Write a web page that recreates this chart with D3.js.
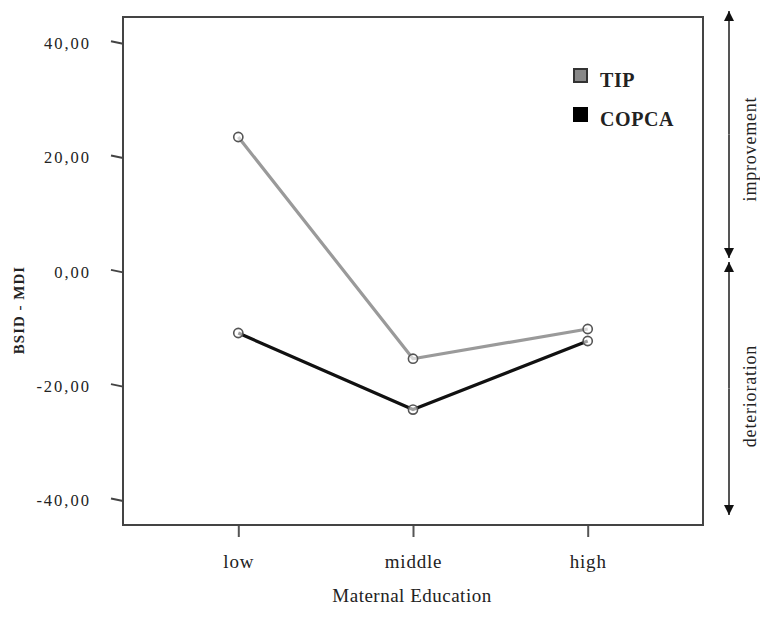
<!DOCTYPE html>
<html>
<head>
<meta charset="utf-8">
<script src="https://cdn.jsdelivr.net/npm/d3@7"></script>
<style>
  html, body { margin: 0; padding: 0; background: #fff; }
  svg { display: block; }
  text { font-family: "Liberation Serif", "DejaVu Serif", serif; fill: #222; }
</style>
</head>
<body>
<svg id="chart" width="760" height="634"></svg>
<script>
// Education levels on the x axis
const categories = ["low", "middle", "high"];
// Mean BSID-MDI change per group
const tipValues = [23.6, -15.2, -10.0];
const copcaValues = [-10.7, -24.1, -12.1];
const seriesNames = ["TIP", "COPCA"];
const yTicks = [-40, -20, 0, 20, 40];

const svg = d3.select("#chart");
const frame = { left: 123, right: 703, top: 17, bottom: 525 };

const x = d3.scalePoint().domain(categories)
  .range([frame.left, frame.right]).padding(0.66);
const y = d3.scaleLinear().domain([-44.3, 44.6])
  .range([frame.bottom, frame.top]);

// Decimal comma, plain hyphen for negatives
const fmt = v => d3.format(".2f")(v).replace(".", ",").replace("\u2212", "-");

// Y axis with short slanted ticks
const yAxis = svg.append("g")
  .attr("transform", `translate(${frame.left},0)`)
  .call(d3.axisLeft(y).tickValues(yTicks).tickSize(12).tickFormat(fmt));
yAxis.select(".domain").remove();
yAxis.selectAll(".tick line")
  .attr("x2", -12).attr("y2", -2.5)
  .attr("stroke", "#444").attr("stroke-width", 2);
yAxis.selectAll(".tick text")
  .attr("x", -32).attr("dy", "0.32em")
  .style("font-size", "16.5px").style("letter-spacing", "2px").attr("fill", "#222");

// X axis
const xAxis = svg.append("g")
  .attr("transform", `translate(0,${frame.bottom})`)
  .call(d3.axisBottom(x).tickSize(12));
xAxis.select(".domain").remove();
xAxis.selectAll(".tick line").attr("stroke", "#555").attr("stroke-width", 2);
xAxis.selectAll(".tick text")
  .attr("y", 43).attr("dy", 0)
  .style("font-size", "19px").style("letter-spacing", "0.8px").attr("fill", "#222");

// Plot frame
svg.append("rect")
  .attr("x", frame.left).attr("y", frame.top)
  .attr("width", frame.right - frame.left).attr("height", frame.bottom - frame.top)
  .attr("fill", "none").attr("stroke", "#444").attr("stroke-width", 2);

// Axis titles
svg.append("text")
  .attr("transform", "translate(24,310) rotate(-90)")
  .attr("text-anchor", "middle")
  .style("font-size", "15px").style("font-weight", "bold").style("letter-spacing", "1px")
  .text("BSID - MDI");
svg.append("text")
  .attr("x", 412).attr("y", 602)
  .attr("text-anchor", "middle")
  .style("font-size", "19px").style("letter-spacing", "0.5px")
  .text("Maternal Education");

// Series lines and markers
const series = [
  { name: seriesNames[0], values: tipValues, color: "#9a9a9a" },
  { name: seriesNames[1], values: copcaValues, color: "#111" }
];
const line = d3.line().x((d, i) => x(categories[i])).y(d => y(d));
series.forEach(s => {
  svg.append("path")
    .attr("d", line(s.values))
    .attr("fill", "none").attr("stroke", s.color)
    .attr("stroke-width", 3.2).attr("stroke-linejoin", "round");
});
series.forEach(s => {
  svg.selectAll(null).data(s.values).enter().append("circle")
    .attr("cx", (d, i) => x(categories[i])).attr("cy", d => y(d))
    .attr("r", 4.6)
    .attr("fill", "#fff").attr("fill-opacity", 0.6)
    .attr("stroke", "#555").attr("stroke-width", 1.6);
});

// Legend
const legend = svg.append("g");
series.forEach((s, i) => {
  const ly = 69 + i * 39;
  legend.append("rect")
    .attr("x", 574).attr("y", ly).attr("width", 13).attr("height", 13)
    .attr("fill", i === 0 ? "#888" : "#000")
    .attr("stroke", i === 0 ? "#333" : "#000").attr("stroke-width", 2);
  legend.append("text")
    .attr("x", 600).attr("y", ly + 18)
    .style("font-size", "20px").style("font-weight", "bold").style("letter-spacing", "0.6px")
    .attr("fill", "#111")
    .text(s.name);
});

// Direction arrows on the right
const defs = svg.append("defs");
defs.append("marker")
  .attr("id", "arrowhead").attr("viewBox", "0 0 10 10")
  .attr("refX", 10).attr("refY", 5)
  .attr("markerWidth", 10).attr("markerHeight", 10)
  .attr("markerUnits", "userSpaceOnUse")
  .attr("orient", "auto")
  .append("path").attr("d", "M0,0 L10,5 L0,10 Z").attr("fill", "#111");

const ax = 729;
// Each segment drawn as two half-lines so both ends carry an arrowhead
const segments = [
  { top: 11, bottom: 258 },
  { top: 262, bottom: 515 }
];
segments.forEach(sg => {
  const mid = (sg.top + sg.bottom) / 2;
  svg.append("line")
    .attr("x1", ax).attr("x2", ax).attr("y1", mid).attr("y2", sg.top)
    .attr("stroke", "#555").attr("stroke-width", 2)
    .attr("marker-end", "url(#arrowhead)");
  svg.append("line")
    .attr("x1", ax).attr("x2", ax).attr("y1", mid).attr("y2", sg.bottom)
    .attr("stroke", "#555").attr("stroke-width", 2)
    .attr("marker-end", "url(#arrowhead)");
});

svg.append("text")
  .attr("transform", "translate(756,149) rotate(-90)")
  .attr("text-anchor", "middle")
  .style("font-size", "18px").style("letter-spacing", "0.8px")
  .text("improvement");
svg.append("text")
  .attr("transform", "translate(756,396) rotate(-90)")
  .attr("text-anchor", "middle")
  .style("font-size", "18px").style("letter-spacing", "0.8px")
  .text("deterioration");
</script>
</body>
</html>
